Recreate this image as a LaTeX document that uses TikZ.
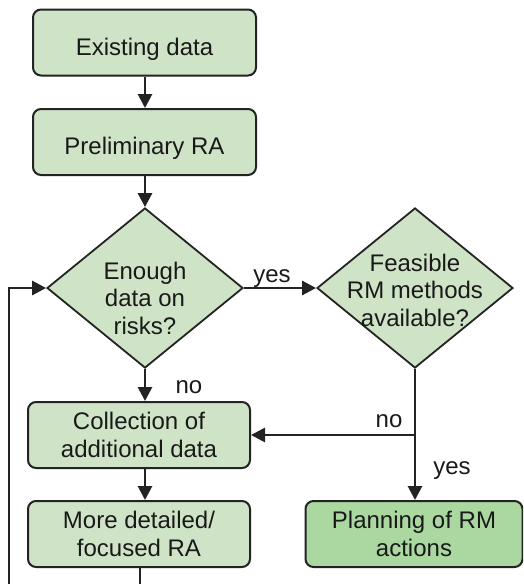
\documentclass[tikz,border=0pt]{standalone}
\usepackage{fontspec}
\setmainfont{Liberation Sans}
\usetikzlibrary{arrows.meta,shapes.geometric}
\definecolor{boxgreen}{RGB}{207,228,199}
\definecolor{plangreen}{RGB}{170,216,160}
\definecolor{edge}{RGB}{35,35,35}
\begin{document}
\begin{tikzpicture}[x=1pt,y=-1pt,
  txt/.style={font=\fontsize{24}{27.5}\selectfont, text=black!90},
  box/.style={txt, draw=edge, line width=2pt, rounded corners=8pt, fill=boxgreen,
    minimum width=222pt, minimum height=66pt, inner sep=0pt, align=center},
  onebox/.style={box, text height=30pt, text depth=5pt},
  dia/.style={draw=edge, line width=1.8pt, fill=boxgreen, shape=diamond,
    minimum width=196pt, minimum height=160pt, inner sep=0pt},
  lab/.style={txt, inner sep=0pt, anchor=base},
  arr/.style={draw=edge, line width=2.8pt, -{Triangle[length=14pt,width=14pt]}},
  ln/.style={draw=edge, line width=2.8pt}]
\clip (0,0) rectangle (523,584);
\fill[white] (0,0) rectangle (523,584);

\node[onebox, minimum width=223pt] (b1) at (144.5,42.5) {Existing data};
\node[onebox, minimum width=223pt] (b2) at (144.5,142) {Preliminary RA};
\node[dia] (d1) at (145,288) {};
\node[txt, align=center, inner sep=0pt] (d1t) at (145,298) {Enough\\data on\\risks?};
\node[dia] (d2) at (415,288) {};
\node[txt, align=center, inner sep=0pt] (d2t) at (415,290) {Feasible\\RM methods\\available?};
\node[box] (b3) at (139,435) {Collection of\\additional data};
\node[box] (b4) at (139,534) {More detailed/\\focused RA};
\node[box, fill=plangreen, minimum width=217pt] (b5) at (414,534) {Planning of RM\\actions};

\coordinate (br) at (415,435);

\draw[arr] (b1.south -| d1.north) -- (b2.north -| d1.north);
\draw[arr] (b2.south -| d1.north) -- (d1.north);
\draw[arr] (d1.east) -- (d2.west);
\draw[arr] (d1.south) -- (d1.south |- b3.north);
\draw[arr] (d1.south |- b3.south) -- (d1.south |- b4.north);
\draw[arr] (d2.south) -- (d2.south |- b5.north);
\draw[arr] (br) -- (b3.east);
\draw[arr] (b4.south -| 140,0) -- (140,610) -| (9,400) |- (d1.west);

\node[lab] (l1) at (272,282) {yes};
\node[lab] (l2) at (189,393) {no};
\node[lab] (l3) at (389,427) {no};
\node[lab] (l4) at (452,474) {yes};
\end{tikzpicture}
\end{document}
